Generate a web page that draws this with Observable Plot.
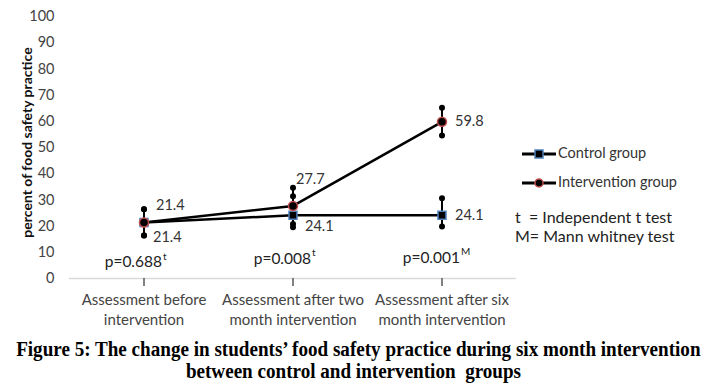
<!DOCTYPE html>
<html>
<head>
<meta charset="utf-8">
<script src="https://cdn.jsdelivr.net/npm/d3@7"></script>
<script src="https://cdn.jsdelivr.net/npm/@observablehq/plot@0.6"></script>
<style>
  body { margin: 0; background: #fff; }
  #wrap { position: relative; width: 706px; height: 389px; font-family: Lato, "Open Sans", sans-serif; color: #333; }
  #chart { position: absolute; left: 0; top: 0; }
  .leg { position: absolute; font-size: 14.5px; line-height: 1; white-space: nowrap; }
  .note { position: absolute; font-size: 16px; line-height: 1; white-space: nowrap; color: #222; }
  #caption { position: absolute; left: 0; top: 338px; width: 706px; text-align: center;
    font-family: "Liberation Serif", "Times New Roman", serif; font-weight: bold; font-size: 20px; line-height: 22px; color: #000; }
  #caption span { display: inline-block; transform: scaleX(0.955); transform-origin: center; white-space: nowrap; }
</style>
</head>
<body>
<div id="wrap">
  <div id="chart"></div>
  <svg class="leg" style="left:520px;top:146px" width="38" height="16">
    <line x1="2" y1="8" x2="36" y2="8" stroke="#000" stroke-width="3"/>
    <rect x="15" y="4" width="8" height="8" fill="#000" stroke="#4f81bd" stroke-width="1.5"/>
  </svg>
  <div class="leg" style="left:558px;top:146px">Control group</div>
  <svg class="leg" style="left:520px;top:175px" width="38" height="16">
    <line x1="2" y1="8" x2="36" y2="8" stroke="#000" stroke-width="3"/>
    <circle cx="19" cy="8" r="4" fill="#000" stroke="#c0504d" stroke-width="1.5"/>
  </svg>
  <div class="leg" style="left:558px;top:175px">Intervention group</div>
  <div class="note" style="left:515px;top:209px">t&nbsp; = Independent t test</div>
  <div class="note" style="left:515px;top:228px">M= Mann whitney test</div>
  <div id="caption"><span>Figure 5: The change in students’ food safety practice during six month intervention</span><br><span>between control and intervention&nbsp; groups</span></div>
</div>
<script>
const categories = ["Assessment before\nintervention", "Assessment after two\nmonth intervention", "Assessment after six\nmonth intervention"];
const controlValues = [21.4, 24.1, 24.1];
const controlLow = [16.4, 19.6, 19.8];
const controlHigh = [26.4, 31.4, 30.6];
const interventionValues = [21.4, 27.7, 59.8];
const interventionLow = [16.4, 20.8, 54.6];
const interventionHigh = [26.4, 34.6, 65.2];
const pValues = ["p=0.688", "p=0.008", "p=0.001"];
const pSuper = ["t", "t", "M"];
const pLevel = [6.1, 7.6, 8];
const yTicks = [0, 10, 20, 30, 40, 50, 60, 70, 80, 90, 100];

const control = categories.map((c, i) => ({cat: c, i, v: controlValues[i], lo: controlLow[i], hi: controlHigh[i]}));
const interv = categories.map((c, i) => ({cat: c, i, v: interventionValues[i], lo: interventionLow[i], hi: interventionHigh[i]}));
const pData = categories.map((c, i) => ({cat: c, p: pValues[i], s: pSuper[i], y: pLevel[i]}));
const caps = [...control, ...interv].flatMap(d => [{cat: d.cat, y: d.lo}, {cat: d.cat, y: d.hi}]);

const font = "Lato, 'Open Sans', sans-serif";
const labelStyle = {fontSize: 14.5, fill: "#333", fontFamily: font};

const chart = Plot.plot({
  width: 706,
  height: 335,
  marginLeft: 69,
  marginRight: 190,
  marginTop: 16,
  marginBottom: 57,
  style: {fontFamily: font, background: "transparent"},
  x: {type: "band", domain: categories, padding: 0},
  y: {domain: [0, 100]},
  marks: [
    Plot.axisY({ticks: yTicks, tickSize: 0, tickPadding: 15, fontSize: 14.5, fill: "#444", stroke: "#d9d9d9", line: true, label: null}),
    Plot.ruleY([0], {stroke: "#d9d9d9", strokeWidth: 1.5}),
    Plot.axisX({tickSize: 8, tickPadding: 4, fontSize: 15, fill: "#444", stroke: "#595959", strokeWidth: 1.5, lineHeight: 1.35, label: null}),
    Plot.text(["percent of food safety practice"], {frameAnchor: "left", textAnchor: "middle", dx: -42, dy: -5, rotate: -90, fontWeight: "bold", fontSize: 14, fill: "#111", fontFamily: font}),
    Plot.ruleX(control, {x: "cat", y1: "lo", y2: "hi", stroke: "#000", strokeWidth: 2}),
    Plot.ruleX(interv, {x: "cat", y1: "lo", y2: "hi", stroke: "#000", strokeWidth: 2}),
    Plot.dot(caps, {x: "cat", y: "y", r: 3, fill: "#000"}),
    Plot.line(control, {x: "cat", y: "v", stroke: "#000", strokeWidth: 2.5}),
    Plot.line(interv, {x: "cat", y: "v", stroke: "#000", strokeWidth: 2.5}),
    Plot.dot(control, {x: "cat", y: "v", symbol: "square", r: 4.5, fill: "#000", stroke: "#4f81bd", strokeWidth: 1.5}),
    Plot.dot(interv, {x: "cat", y: "v", r: 4.5, fill: "#000", stroke: "#c0504d", strokeWidth: 1.5}),
    Plot.text(interv.filter(d => d.i === 0), {x: "cat", y: "v", text: d => d.v.toFixed(1), textAnchor: "start", dx: 12, dy: -17, ...labelStyle}),
    Plot.text(interv.filter(d => d.i === 1), {x: "cat", y: "v", text: d => d.v.toFixed(1), textAnchor: "start", dx: 3, dy: -27, ...labelStyle}),
    Plot.text(interv.filter(d => d.i === 2), {x: "cat", y: "v", text: d => d.v.toFixed(1), textAnchor: "start", dx: 13, dy: 0, ...labelStyle}),
    Plot.text(control.filter(d => d.i === 0), {x: "cat", y: "v", text: d => d.v.toFixed(1), textAnchor: "start", dx: 9, dy: 15, ...labelStyle}),
    Plot.text(control.filter(d => d.i === 1), {x: "cat", y: "v", text: d => d.v.toFixed(1), textAnchor: "start", dx: 12, dy: 11, ...labelStyle}),
    Plot.text(control.filter(d => d.i === 2), {x: "cat", y: "v", text: d => d.v.toFixed(1), textAnchor: "start", dx: 13, dy: 0, ...labelStyle}),
    Plot.text(pData, {x: "cat", y: "y", text: "p", textAnchor: "end", dx: 18, fontSize: 15.5, fill: "#222", fontFamily: font}),
    Plot.text(pData, {x: "cat", y: "y", text: "s", textAnchor: "start", dx: 19, dy: -6, fontSize: 10, fill: "#222", fontFamily: font})
  ]
});
document.getElementById("chart").appendChild(chart);
</script>
</body>
</html>
